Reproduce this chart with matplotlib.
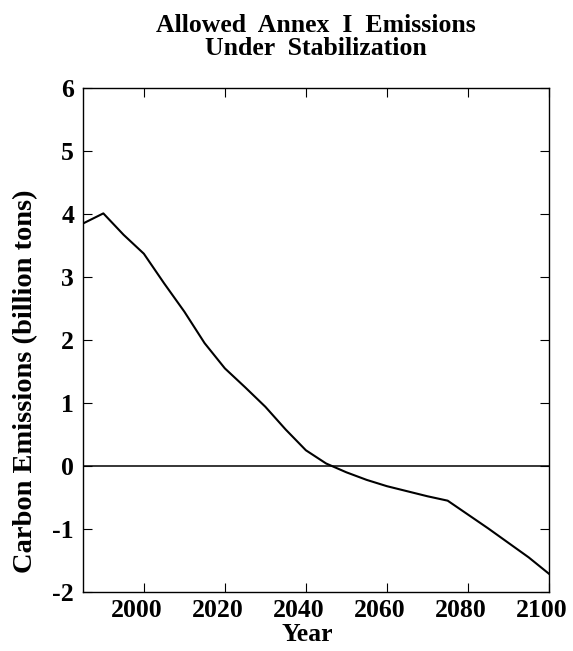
import matplotlib
matplotlib.use("Agg")
import matplotlib.pyplot as plt
import matplotlib.transforms as mtransforms

years = [1985, 1990, 1995, 2000, 2005, 2010, 2015, 2020, 2025, 2030, 2035, 2040,
         2045, 2050, 2055, 2060, 2065, 2070, 2075, 2080, 2085, 2090, 2095, 2100]
emissions = [3.85, 4.01, 3.67, 3.37, 2.90, 2.45, 1.95, 1.55, 1.25, 0.94, 0.58, 0.25,
             0.04, -0.10, -0.22, -0.32, -0.40, -0.48, -0.55, -0.77, -0.99, -1.22, -1.45, -1.71]
xticks = [2000, 2020, 2040, 2060, 2080, 2100]
yticks = [-2, -1, 0, 1, 2, 3, 4, 5, 6]

plt.rcParams['font.family'] = ['Liberation Serif', 'DejaVu Serif']
plt.rcParams['font.weight'] = 'bold'
plt.rcParams['axes.unicode_minus'] = False

fig = plt.figure(figsize=(5.73, 6.51), dpi=100)
ax = fig.add_axes([0.145, 0.0906, 0.813, 0.7742])

ax.plot(years, emissions, color='black', linewidth=1.5)
ax.axhline(0, color='black', linewidth=1.1)

ax.set_xlim(1985, 2100)
ax.set_ylim(-2, 6)
ax.set_xticks(xticks)
ax.set_yticks(yticks)
ax.tick_params(direction='in', top=True, right=True, length=6.5, width=0.8,
               labelsize=18.5)
ax.tick_params(axis='y', pad=6.5)
ax.tick_params(axis='x', pad=5)
for lab in ax.get_xticklabels() + ax.get_yticklabels():
    lab.set_fontweight('bold')

# x tick labels sit a little left of their ticks in the original
shift = mtransforms.ScaledTranslation(-7 / 100, 0, fig.dpi_scale_trans)
for lab in ax.get_xticklabels():
    lab.set_transform(lab.get_transform() + shift)

for s in ax.spines.values():
    s.set_linewidth(1.0)

ax.set_xlabel('Year', fontsize=18.5, fontweight='bold', labelpad=1, x=0.482)
ax.set_ylabel('Carbon Emissions (billion tons)', fontsize=20.5, fontweight='bold',
              labelpad=10, y=0.419)
ax.set_title('Allowed  Annex  I  Emissions\nUnder  Stabilization', fontsize=18.5,
             fontweight='bold', pad=24, linespacing=1.0)

fig.savefig('out.png', dpi=100)
